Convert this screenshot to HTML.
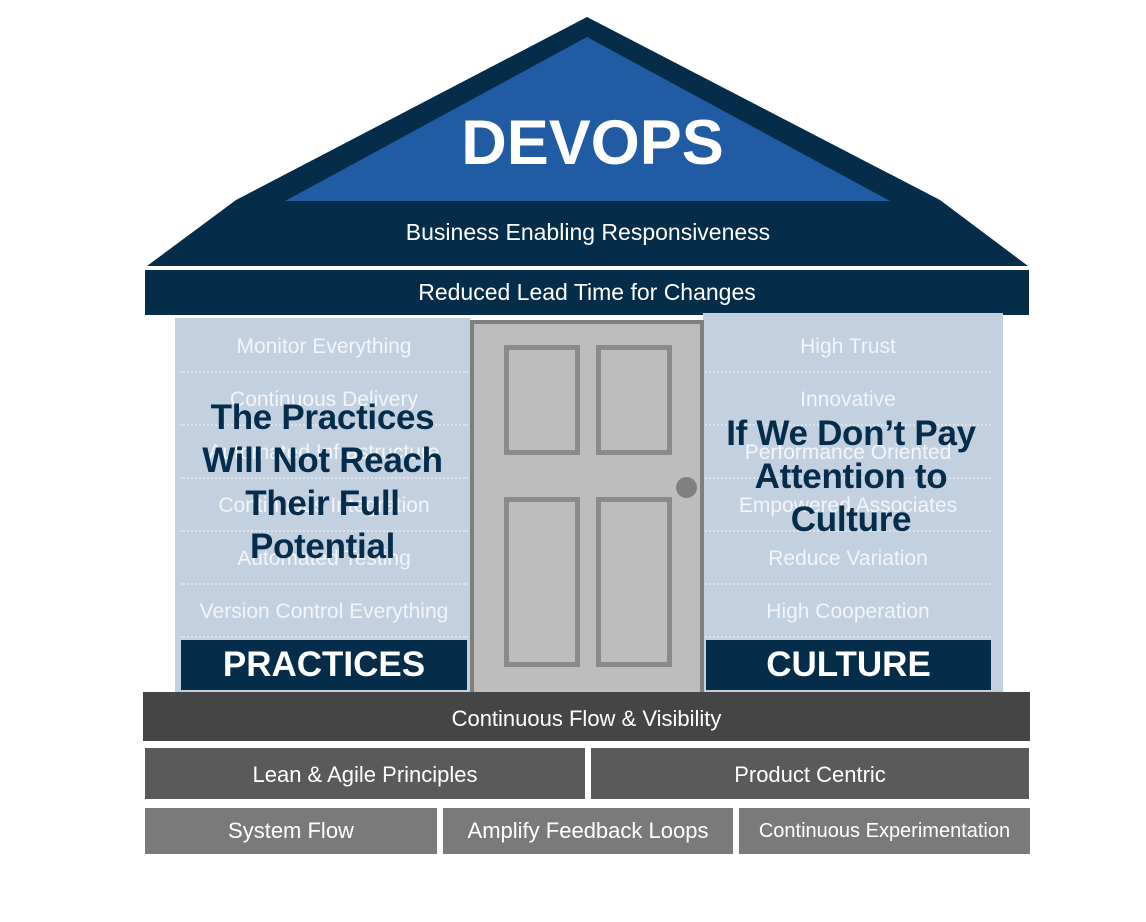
<!DOCTYPE html>
<html><head><style>
body{margin:0;width:1146px;height:922px;background:#fff;position:relative;font-family:"Liberation Sans",sans-serif;overflow:hidden}
.a{position:absolute;box-sizing:border-box;display:flex;align-items:center;justify-content:center;color:#fff;text-align:center}
.r{background:#c3d0e0;color:#f2f5f9;font-size:21px;border-bottom:2px dotted #dde4ee;padding-top:3px}
.big{position:absolute;color:#062c4b;font-weight:bold;text-align:center;line-height:43px;font-size:35px;letter-spacing:-0.3px}
</style></head><body>
<svg class="a" style="left:0;top:0" width="1146" height="922">
<polygon points="587,17 940,200 1028,266 147,266 236,200" fill="#052d4a"/>
<polygon points="587,37 890,201 285,201" fill="#205ba3"/>
</svg>
<div class="a" style="left:300px;top:105px;width:585px;height:75px;font-size:63px;font-weight:bold">DEVOPS</div>
<div class="a" style="left:236px;top:214px;width:704px;height:36px;font-size:23px">Business Enabling Responsiveness</div>
<div class="a" style="left:145px;top:270px;width:884px;height:45px;background:#052d4a;font-size:23px">Reduced Lead Time for Changes</div>

<div class="a" style="left:175px;top:318px;width:295px;height:374px;background:#c3d0e0"></div>
<div class="a r" style="left:180px;top:320px;width:288px;height:53px">Monitor Everything</div>
<div class="a r" style="left:180px;top:373px;width:288px;height:53px">Continuous Delivery</div>
<div class="a r" style="left:180px;top:426px;width:288px;height:53px">Automated Infrastructure</div>
<div class="a r" style="left:180px;top:479px;width:288px;height:53px">Continuous Integration</div>
<div class="a r" style="left:180px;top:532px;width:288px;height:53px">Automated Testing</div>
<div class="a r" style="left:180px;top:585px;width:288px;height:53px">Version Control Everything</div>
<div class="a" style="left:181px;top:640px;width:286px;height:50px;background:#052d4a;font-size:35px;font-weight:bold">PRACTICES</div>
<div class="big" style="left:170px;top:396px;width:305px">The Practices<br>Will Not Reach<br>Their Full<br>Potential</div>

<div class="a" style="left:703px;top:313px;width:300px;height:379px;background:#c3d0e0"></div>
<div class="a r" style="left:705px;top:320px;width:286px;height:53px">High Trust</div>
<div class="a r" style="left:705px;top:373px;width:286px;height:53px">Innovative</div>
<div class="a r" style="left:705px;top:426px;width:286px;height:53px">Performance Oriented</div>
<div class="a r" style="left:705px;top:479px;width:286px;height:53px">Empowered Associates</div>
<div class="a r" style="left:705px;top:532px;width:286px;height:53px">Reduce Variation</div>
<div class="a r" style="left:705px;top:585px;width:286px;height:53px">High Cooperation</div>
<div class="a" style="left:706px;top:640px;width:285px;height:50px;background:#052d4a;font-size:35px;font-weight:bold">CULTURE</div>
<div class="big" style="left:696px;top:412px;width:310px">If We Don’t Pay<br>Attention to<br>Culture</div>

<div class="a" style="left:470px;top:320px;width:234px;height:372px;background:#bdbdbd;border:4px solid #7f7f7f;border-bottom:none"></div>
<div class="a" style="left:504px;top:345px;width:76px;height:110px;border:5px solid #8a8a8a"></div>
<div class="a" style="left:596px;top:345px;width:76px;height:110px;border:5px solid #8a8a8a"></div>
<div class="a" style="left:504px;top:497px;width:76px;height:170px;border:5px solid #8a8a8a"></div>
<div class="a" style="left:596px;top:497px;width:76px;height:170px;border:5px solid #8a8a8a"></div>
<div class="a" style="left:676px;top:477px;width:21px;height:21px;border-radius:50%;background:#808080"></div>

<div class="a" style="left:143px;top:692px;width:887px;height:49px;background:#454545;font-size:22px;padding-top:4px">Continuous Flow &amp; Visibility</div>
<div class="a" style="left:145px;top:748px;width:440px;height:51px;background:#5a5a5a;font-size:22px;padding-top:2px">Lean &amp; Agile Principles</div>
<div class="a" style="left:591px;top:748px;width:438px;height:51px;background:#5a5a5a;font-size:22px;padding-top:2px">Product Centric</div>
<div class="a" style="left:145px;top:808px;width:292px;height:46px;background:#7a7a7a;font-size:22px">System Flow</div>
<div class="a" style="left:443px;top:808px;width:290px;height:46px;background:#7a7a7a;font-size:22px">Amplify Feedback Loops</div>
<div class="a" style="left:739px;top:808px;width:291px;height:46px;background:#7a7a7a;font-size:20px">Continuous Experimentation</div>
</body></html>
